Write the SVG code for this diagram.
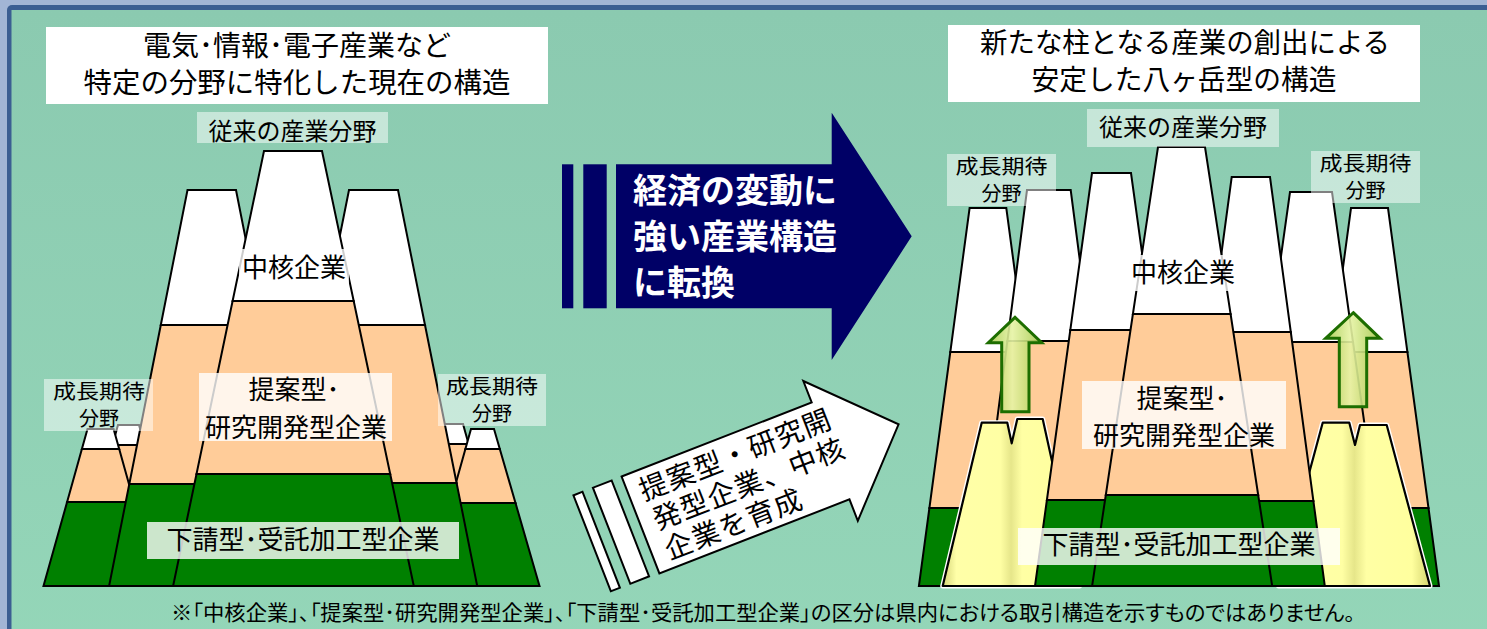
<svg xmlns="http://www.w3.org/2000/svg" width="1487" height="629" viewBox="0 0 1487 629">
<defs>
<style>
text{font-family:"Noto Sans CJK JP","Noto Sans",sans-serif;fill:#000}
.w{fill:#fff;stroke:#000;stroke-width:2;stroke-linejoin:miter}
.p{fill:#ffcc99;stroke:#000;stroke-width:2}
.g{fill:#008000;stroke:#000;stroke-width:2}
.t{font-size:28px;text-anchor:middle}
.c{text-anchor:middle}
.gr{text-anchor:middle;font-size:20px}
.b5{fill:#fff;fill-opacity:0.5}
.b8{fill:#fff;fill-opacity:0.8}
.yg{fill:none;stroke:#fff;stroke-width:5;stroke-linejoin:round}
.yl{fill:url(#ylg);stroke:#000;stroke-width:2.2;stroke-linejoin:round}
.ga{fill:url(#gag);fill-opacity:0.9;stroke:#1d6e00;stroke-width:3;stroke-linejoin:miter}
.mt{font-size:34px;font-weight:bold}
</style>
<linearGradient id="bg" x1="0" y1="0" x2="0" y2="1"><stop offset="0" stop-color="#8bcab0"/><stop offset="1" stop-color="#95d7b9"/></linearGradient>
<linearGradient id="ylg" x1="0" y1="0" x2="1" y2="0">
<stop offset="0" stop-color="#d4d478"/><stop offset="0.1" stop-color="#ffffa8"/><stop offset="0.42" stop-color="#ffffa4"/><stop offset="0.5" stop-color="#e6e68a"/><stop offset="0.58" stop-color="#ffffa4"/><stop offset="0.88" stop-color="#ffff9e"/><stop offset="1" stop-color="#d4d470"/>
</linearGradient>
<linearGradient id="gag" x1="0" y1="0" x2="1" y2="0"><stop offset="0" stop-color="#a6ca4e"/><stop offset="0.45" stop-color="#e6f3a4"/><stop offset="1" stop-color="#a4c84c"/></linearGradient>
</defs>

<g id="background">
<rect x="0" y="0" width="1487" height="629" fill="#a2b5d5"/>
<rect x="7" y="5" width="1500" height="700" rx="5" fill="#3b5e92"/>
<rect x="11.5" y="10" width="1490" height="700" fill="url(#bg)"/>
</g>

<!-- LEFT DIAGRAM -->
<g id="left-mountains">
<g id="L-small2l"><polygon class="w" points="118,425 139,425 144.6,445 112.4,445"/><polygon class="p" points="112.4,445 144.6,445 157.2,490 99.8,490"/><polygon class="g" points="99.8,490 157.2,490 184.1,586 72.9,586"/></g>
<g id="L-small2r"><polygon class="w" points="445,424 463,424 468.6,444 439.4,444"/><polygon class="p" points="439.4,444 468.6,444 481.5,490 426.5,490"/><polygon class="g" points="426.5,490 481.5,490 508.4,586 399.6,586"/></g>
<g id="L-small1l"><polygon class="w" points="87.5,429 113.6,429 119.2,449 81.9,449"/><polygon class="p" points="81.9,449 119.2,449 134,502 67.1,502"/><polygon class="g" points="67.1,502 134,502 157.6,586 43.5,586"/></g>
<g id="L-small1r"><polygon class="w" points="471,429 494,429 499.8,449 465.4,449"/><polygon class="p" points="465.4,449 499.8,449 515.5,503 450.3,503"/><polygon class="g" points="450.3,503 515.5,503 539.5,586 427,586"/></g>
<g id="L-bigl"><polygon class="w" points="187.5,190 236,190 262.7,325 160.8,325"/><polygon class="p" points="160.8,325 262.7,325 294.2,484 129.3,484"/><polygon class="g" points="129.3,484 294.2,484 314.4,586 109.1,586"/></g>
<g id="L-bigr"><polygon class="w" points="349,190 398,190 425,325 322,325"/><polygon class="p" points="322,325 425,325 456.6,483 290.4,483"/><polygon class="g" points="290.4,483 456.6,483 477.2,586 269.8,586"/></g>
<g id="L-center"><polygon class="w" points="264,151 322,151 353.7,301 232.6,301"/><polygon class="p" points="232.6,301 353.7,301 390.2,474 196.5,474"/><polygon class="g" points="196.5,474 390.2,474 413.8,586 173.1,586"/></g>
</g>

<g id="left-title">
<rect x="46" y="27" width="502" height="77" fill="#fff"/>
<text class="t" x="297" y="56" textLength="308" lengthAdjust="spacingAndGlyphs">電気･情報･電子産業など</text>
<text class="t" x="297" y="93" textLength="427" lengthAdjust="spacingAndGlyphs">特定の分野に特化した現在の構造</text>
</g>
<g id="left-label-conventional"><rect class="b5" x="197" y="112" width="191" height="31"/><text class="c" x="292.5" y="140" font-size="24">従来の産業分野</text></g>
<g id="left-label-core"><rect class="b8" x="239" y="249" width="110" height="35"/><text class="c" x="294" y="277" font-size="26">中核企業</text></g>
<g id="left-label-rd"><rect class="b8" x="199" y="373" width="193" height="68"/><text class="c" x="294" y="398.5" font-size="26">提案型･</text><text class="c" x="296" y="436.5" font-size="26">研究開発型企業</text></g>
<g id="left-label-sub"><rect class="b8" x="147" y="522" width="312" height="37"/><text class="c" x="303" y="549" font-size="26">下請型･受託加工型企業</text></g>
<g id="left-label-growth-l"><rect class="b5" x="44" y="379" width="109" height="52"/><text class="gr" x="99" y="398.5" textLength="92" lengthAdjust="spacingAndGlyphs">成長期待</text><text class="gr" x="99" y="425.5">分野</text></g>
<g id="left-label-growth-r"><rect class="b5" x="438" y="374" width="108" height="52"/><text class="gr" x="492" y="393.5" textLength="92" lengthAdjust="spacingAndGlyphs">成長期待</text><text class="gr" x="492" y="420.5">分野</text></g>

<!-- RIGHT DIAGRAM -->
<g id="right-mountains">
<g id="R-A"><polygon class="w" points="969.6,208 1006.3,208 1025.6,352 950.3,352"/><polygon class="p" points="950.3,352 1025.6,352 1046.5,508 929.4,508"/><polygon class="g" points="929.4,508 1046.5,508 1057,586 918.9,586"/></g>
<g id="R-G"><polygon class="w" points="1351,208 1388,208 1407.4,352 1331.6,352"/><polygon class="p" points="1331.6,352 1407.4,352 1428.5,508 1310.5,508"/><polygon class="g" points="1310.5,508 1428.5,508 1439,586 1300,586"/></g>
<g id="R-B"><polygon class="w" points="1027,190 1070.7,190 1090.3,341 1007.4,341"/><polygon class="p" points="1007.4,341 1090.3,341 1111,500 986.7,500"/><polygon class="g" points="986.7,500 1111,500 1122.2,586 975.5,586"/></g>
<g id="R-F"><polygon class="w" points="1290,192 1332,192 1353,342 1269,342"/><polygon class="p" points="1269,342 1353,342 1375.1,500 1246.9,500"/><polygon class="g" points="1246.9,500 1375.1,500 1387.2,586 1234.8,586"/></g>
<g id="R-yellow-l"><path class="yg" d="M942.7,586 L981.7,422.7 L1007.3,422.7 L1011.7,443.3 L1017.3,419 L1042.7,419 L1079.5,586 Z"/><path class="yl" d="M942.7,586 L981.7,422.7 L1007.3,422.7 L1011.7,443.3 L1017.3,419 L1042.7,419 L1079.5,586 Z"/></g>
<g id="R-yellow-r"><path class="yg" d="M1278.6,586 L1322.7,422.7 L1349.3,422.7 L1355,445 L1360,425 L1386.7,425 L1430,586 Z"/><path class="yl" d="M1278.6,586 L1322.7,422.7 L1349.3,422.7 L1355,445 L1360,425 L1386.7,425 L1430,586 Z"/></g>
<g id="R-C"><polygon class="w" points="1092,173 1131,173 1152.7,330 1070.3,330"/><polygon class="p" points="1070.3,330 1152.7,330 1176.1,500 1046.9,500"/><polygon class="g" points="1046.9,500 1176.1,500 1188,586 1035,586"/></g>
<g id="R-E"><polygon class="w" points="1231.7,177 1270,177 1290.8,332 1210.9,332"/><polygon class="p" points="1210.9,332 1290.8,332 1313.4,501 1188.3,501"/><polygon class="g" points="1188.3,501 1313.4,501 1324.8,586 1176.9,586"/></g>
<g id="R-D"><polygon class="w" points="1158,147 1205,147 1230.6,314 1132.9,314"/><polygon class="p" points="1132.9,314 1230.6,314 1258.2,495 1105.8,495"/><polygon class="g" points="1105.8,495 1258.2,495 1272.2,586 1092.1,586"/></g>
<g id="R-uparrow-l"><path class="ga" d="M1015,317.3 L1041.7,342.7 L1029,342.7 L1029,411.7 L1001.7,411.7 L1001.7,342.7 L988.3,342.7 Z"/></g>
<g id="R-uparrow-r"><path class="ga" d="M1353.3,312.7 L1380,338.3 L1366.7,338.3 L1366.7,406.7 L1339.3,406.7 L1339.3,338.3 L1325.7,338.3 Z"/></g>
</g>

<g id="right-title">
<rect x="948" y="25" width="472" height="77" fill="#fff"/>
<text class="t" x="1185" y="53" textLength="410" lengthAdjust="spacingAndGlyphs">新たな柱となる産業の創出による</text>
<text class="t" x="1184" y="90" textLength="305" lengthAdjust="spacingAndGlyphs">安定した八ヶ岳型の構造</text>
</g>
<g id="right-label-conventional"><rect class="b5" x="1087" y="109" width="192" height="38"/><text class="c" x="1183" y="136" font-size="24">従来の産業分野</text></g>
<g id="right-label-growth-l"><rect class="b5" x="947" y="154" width="109" height="52"/><text class="gr" x="1001.5" y="173.5" textLength="92" lengthAdjust="spacingAndGlyphs">成長期待</text><text class="gr" x="1001.5" y="200.5">分野</text></g>
<g id="right-label-growth-r"><rect class="b5" x="1311" y="151" width="109" height="52"/><text class="gr" x="1365.5" y="170.5" textLength="92" lengthAdjust="spacingAndGlyphs">成長期待</text><text class="gr" x="1365.5" y="197.5">分野</text></g>
<g id="right-label-core"><rect class="b8" x="1127" y="255" width="114" height="36"/><text class="c" x="1183" y="282" font-size="26">中核企業</text></g>
<g id="right-label-rd"><rect class="b8" x="1082" y="381" width="204" height="68"/><text class="c" x="1182" y="408" font-size="26">提案型･</text><text class="c" x="1184" y="445" font-size="26">研究開発型企業</text></g>
<g id="right-label-sub"><rect class="b8" x="1018" y="528" width="322" height="37"/><text class="c" x="1179" y="554" font-size="26">下請型･受託加工型企業</text></g>

<!-- ARROWS -->
<g id="connectors">
<g id="arrow-main">
<rect x="562" y="164.3" width="11.3" height="144" fill="#000066"/>
<rect x="583.3" y="164.3" width="23.4" height="144" fill="#000066"/>
<path d="M616,164.3 L831.7,164.3 L831.7,112.7 L911.7,236.3 L831.7,360 L831.7,308.3 L616,308.3 Z" fill="#000066"/>
<text class="mt" x="633" y="202.5" style="fill:#fff">経済の変動に</text>
<text class="mt" x="633" y="248.5" style="fill:#fff">強い産業構造</text>
<text class="mt" x="633" y="294.5" style="fill:#fff">に転換</text>
</g>
<g id="arrow-develop" transform="translate(640.5,525) rotate(-21.3)">
<rect x="-51.7" y="-52" width="9.7" height="103" fill="#fff" stroke="#000" stroke-width="2"/>
<rect x="-30.8" y="-52" width="20.1" height="103" fill="#fff" stroke="#000" stroke-width="2"/>
<path d="M0,-52 L204,-52 L204,-75 L277,0 L204,75 L204,52 L0,52 Z" fill="#fff" stroke="#000" stroke-width="2" stroke-linejoin="miter"/>
<text x="12" y="-21" font-size="28" textLength="203" lengthAdjust="spacing">提案型・研究開</text>
<text x="14" y="11" font-size="28" textLength="203" lengthAdjust="spacing">発型企業、中核</text>
<text x="14" y="43" font-size="28" textLength="145" lengthAdjust="spacing">企業を育成</text>
</g>
</g>

<g id="footnote">
<text x="171" y="620" font-size="21" textLength="1184" lengthAdjust="spacingAndGlyphs" style="font-feature-settings:'palt'">※「中核企業」、「提案型･研究開発型企業」、「下請型･受託加工型企業」の区分は県内における取引構造を示すものではありません。</text>
</g>
</svg>
